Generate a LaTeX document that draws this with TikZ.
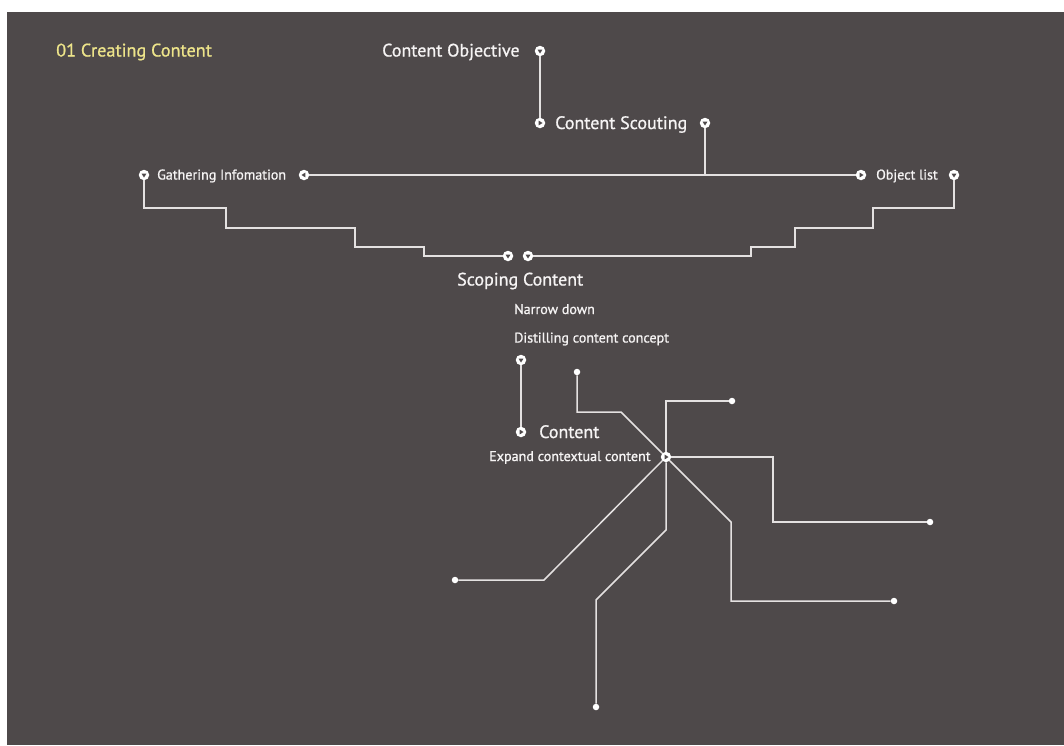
\documentclass[tikz,border=0pt]{standalone}
\usepackage{fontspec}
\setmainfont{PT Sans}
\newfontfamily\labelfont[FakeBold=0.9]{PT Sans}
\definecolor{bg}{HTML}{4E494A}
\definecolor{fg}{HTML}{E4E1E1}
\definecolor{ink}{HTML}{F6F4F4}
\definecolor{title}{HTML}{EDE48A}
\begin{document}
\begin{tikzpicture}[x=1pt,y=-1pt,
  ln/.style={draw=fg, line width=1.5pt},
  mkbase/.style={circle, fill=white, minimum size=10.5pt, inner sep=0pt},
  % markers: a white disc with a dark notch pointing down, right or left
  mkd/.style={mkbase, path picture={\fill[bg]
      ([shift={(-2.4,-1.3)}]path picture bounding box.center) --
      ([shift={(2.4,-1.3)}]path picture bounding box.center) --
      ([shift={(0,2.5)}]path picture bounding box.center) -- cycle;}},
  mkr/.style={mkbase, path picture={\fill[bg]
      ([shift={(-1.3,-2.4)}]path picture bounding box.center) --
      ([shift={(-1.3,2.4)}]path picture bounding box.center) --
      ([shift={(2.5,0)}]path picture bounding box.center) -- cycle;}},
  mkl/.style={mkbase, path picture={\fill[bg]
      ([shift={(1.3,-2.4)}]path picture bounding box.center) --
      ([shift={(1.3,2.4)}]path picture bounding box.center) --
      ([shift={(-2.5,0)}]path picture bounding box.center) -- cycle;}},
  dot/.style={circle, fill=white, minimum size=6.5pt, inner sep=0pt},
  big/.style={text=ink, inner sep=0pt, anchor=base west, font=\labelfont\fontsize{18}{20}\selectfont},
  small/.style={text=ink, inner sep=0pt, anchor=base west, font=\labelfont\fontsize{14.1}{16}\selectfont}]
\useasboundingbox (0,0) rectangle (1064,745);
\fill[white] (0,0) rectangle (1064,745);
\fill[bg] (7,12) rectangle (1064,745);

% heading
\node[inner sep=0pt, anchor=base west, text=title, font=\labelfont\fontsize{18.2}{20}\selectfont] (head) at (56,56.5) {01 Creating Content};

% objective and scouting
\node[big] (tobj) at (382,56.5) {Content Objective};
\node[mkd] (obj) at (540,51) {};
\node[mkr] (scl) at (540,123) {};
\node[big] (tsc) at (555,129) {Content Scouting};
\node[mkd] (scr) at (705,123) {};
\coordinate (join) at (705,175);

% gathering / object list row
\node[mkd] (gl) at (144,175) {};
\node[small] (tga) at (157,179.5) {Gathering Infomation};
\node[mkl] (gr) at (304,175) {};
\node[mkr] (ol) at (861,175) {};
\node[small] (tol) at (876,179.5) {Object list};
\node[mkd] (olr) at (954,175) {};

% scoping
\node[mkd] (sl) at (508,256) {};
\node[mkd] (sr) at (528,256) {};
\node[big] (tscope) at (457,285.5) {Scoping Content};
\node[small] (tnar) at (514,314) {Narrow down};
\node[small] (tdis) at (514,342.5) {Distilling content concept};
\node[mkd] (dm) at (521,360) {};
\node[mkr] (cm) at (521,432) {};
\node[big] (tcon) at (539,438) {Content};
\node[small] (texp) at (489,461) {Expand contextual content};
\node[mkr] (ex) at (666,457) {};

% end dots
\node[dot] (d1) at (577,372) {};
\node[dot] (d2) at (732,401) {};
\node[dot] (d3) at (930,522) {};
\node[dot] (d4) at (894,601) {};
\node[dot] (d5) at (596,707) {};
\node[dot] (d6) at (455,580) {};

% connectors
\draw[ln] (obj) -- (scl);
\draw[ln] (scr) -- (join);
\draw[ln] (gr) -- (ol);
\draw[ln] (gl) |- (226,208) |- (355,228) |- (424,247) |- (sl);
\draw[ln] (sr) -| (751,247) -| (795,228) -| (873,208) -| (olr);
\draw[ln] (dm) -- (cm);

% branches around the expansion point
\draw[ln] (ex) -- (621,412) -- (577,412) -- (d1);
\draw[ln] (ex) |- (d2);
\draw[ln] (ex) -- (773,457) |- (d3);
\draw[ln] (ex) -- (731,522) |- (d4);
\draw[ln] (ex) -- (666,530) -- (596,600) -- (d5);
\draw[ln] (ex) -- (544,580) -- (d6);
\end{tikzpicture}
\end{document}
